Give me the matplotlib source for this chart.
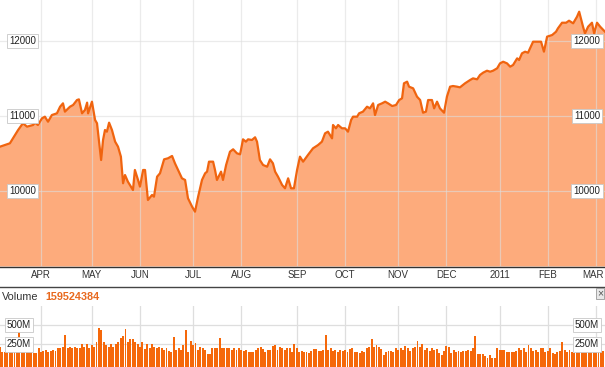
import matplotlib.pyplot as plt
from matplotlib.lines import Line2D
import matplotlib.transforms as mtransforms

plt.rcParams["font.family"] = ["Liberation Sans", "DejaVu Sans"]

# --- datos (x = sesion bursatil desde el inicio) ---
session = [0, 4.1, 6.2, 7.5, 9.5, 11.2, 13.7, 14.5, 15.7, 17.4, 18.6, 19.9, 21.5, 23.6,
           24.9, 26.1, 26.9, 29.0, 30.3, 31.9, 32.7, 34.0, 35.2, 36.1, 36.5, 38.1, 39.4,
           40.2, 41.9, 42.7, 43.5, 44.3, 45.2, 46.4, 47.7, 48.9, 50.1, 51.0, 51.8, 53.0,
           55.1, 55.9, 57.2, 58.0, 59.3, 60.1, 61.3, 63.0, 63.8, 65.1, 66.3, 68.0, 69.6,
           71.3, 72.5, 73.8, 75.4, 76.7, 77.9, 79.6, 80.8, 82.1, 83.7, 85.0, 85.8, 86.6,
           88.3, 89.1, 89.9, 91.6, 92.4, 93.7, 95.3, 96.6, 98.2, 99.5, 100.7, 101.9, 102.8,
           104.4, 105.7, 106.5, 107.7, 109.0, 110.7, 111.9, 113.1, 114.0, 115.2, 116.9,
           118.1, 119.4, 120.6, 121.8, 123.1, 124.3, 125.6, 127.6, 129.7, 131.8, 133.4,
           134.7, 135.9, 137.6, 138.0, 139.2, 140.1, 141.7, 143.0, 144.2, 145.5, 146.3,
           148.0, 148.8, 150.4, 152.1, 153.3, 154.6, 155.4, 156.7, 158.3, 159.6, 160.8,
           162.5, 164.1, 165.4, 166.6, 167.4, 168.7, 169.5, 171.2, 172.8, 174.1, 175.3,
           176.5, 177.4, 179.0, 179.9, 181.1, 182.3, 184.0, 185.2, 186.5, 187.7, 189.4,
           190.6, 192.7, 194.8, 196.0, 197.7, 198.9, 200.2, 201.8, 203.1, 204.3, 206.0,
           207.2, 208.5, 210.1, 211.4, 212.6, 214.3, 215.1, 216.3, 217.6, 218.8, 220.9,
           222.1, 224.2, 225.4, 226.7, 228.8, 230.4, 231.2, 232.9, 234.6, 235.8, 237.5,
           239.1, 240.0, 241.6, 242.4, 243.7, 245.3, 246.2, 247.4, 248.7, 250.7]
close = [10591, 10636, 10747, 10813, 10903, 10858, 10880, 10911, 10880, 10969, 10991,
         10924, 11013, 11036, 11124, 11169, 11058, 11124, 11147, 11213, 11222, 11036,
         11080, 11178, 11036, 11191, 10947, 10903, 10413, 10680, 10813, 10791, 10911,
         10813, 10658, 10591, 10458, 10103, 10213, 10124, 10013, 10280, 10147, 10058,
         10280, 10280, 9880, 9947, 9924, 10191, 10236, 10422, 10436, 10467, 10369, 10280,
         10169, 10147, 9903, 9791, 9724, 9924, 10147, 10236, 10258, 10391, 10391, 10280,
         10147, 10258, 10147, 10347, 10524, 10556, 10502, 10489, 10689, 10658, 10689,
         10680, 10716, 10658, 10413, 10347, 10324, 10422, 10369, 10258, 10191, 10080,
         10036, 10169, 10036, 10036, 10280, 10458, 10391, 10480, 10569, 10613, 10658,
         10769, 10791, 10702, 10880, 10836, 10880, 10836, 10836, 10791, 10947, 10991,
         10991, 11036, 11058, 11124, 11102, 11169, 11013, 11147, 11169, 11191, 11169,
         11133, 11147, 11213, 11236, 11436, 11458, 11391, 11369, 11258, 11213, 11044,
         11058, 11213, 11213, 11102, 11191, 11102, 11044, 11258, 11391, 11400, 11391,
         11382, 11436, 11480, 11502, 11489, 11547, 11578, 11604, 11591, 11604, 11636,
         11702, 11724, 11702, 11658, 11680, 11769, 11747, 11836, 11858, 11844, 11991,
         11991, 11991, 11858, 12058, 12080, 12124, 12169, 12244, 12244, 12271, 12236,
         12324, 12391, 12191, 12102, 12191, 12244, 12102, 12244, 12191, 12124]

# volumen diario en millones, una barra por sesion
volume = [219, 155, 155, 155, 163, 155, 155, 146, 410, 155, 163, 155, 155, 146, 133, 133,
          198, 155, 163, 176, 155, 163, 176, 163, 198, 206, 219, 370, 206, 219, 198, 219,
          198, 206, 250, 219, 250, 198, 241, 219, 284, 465, 435, 284, 241, 219, 250, 219,
          250, 284, 327, 362, 448, 284, 319, 319, 284, 250, 219, 276, 189, 250, 206,
          250, 219, 198, 219, 198, 176, 206, 163, 155, 340, 176, 198, 176, 241, 435, 155,
          293, 241, 263, 176, 219, 206, 176, 120, 120, 198, 206, 198, 327, 198, 206, 198,
          206, 176, 198, 176, 198, 176, 163, 176, 155, 146, 155, 176, 206, 219, 189, 155,
          176, 176, 232, 241, 176, 219, 206, 176, 206, 198, 155, 250, 198, 155,
          163, 155, 155, 133, 163, 189, 189, 163, 163, 176, 370, 176, 198, 163, 176, 155,
          176, 163, 176, 155, 189, 206, 155, 146, 133, 163, 146, 206, 219, 319, 219, 241,
          219, 189, 111, 155, 163, 163, 155, 198, 176, 198, 176, 232, 206, 163, 198, 219,
          293, 219, 250, 176, 206, 163, 206, 176, 189, 133, 111, 163, 232, 219,
          133, 176, 155, 163, 155, 163, 163, 176, 163, 198, 362, 120, 120, 120, 102, 77,
          111, 77, 68, 198, 176, 176, 176, 155, 155, 155, 155, 163, 198, 176, 198, 155,
          241, 198, 163, 176, 155, 206, 206, 155, 163, 198, 133, 120, 155, 163, 276, 176,
          155, 176, 155, 133, 155, 155, 155, 163, 155, 146, 155, 155, 155, 155, 155, 163]

month_pos = [17, 38, 58, 80, 100, 123, 143, 165, 185, 207, 227, 247]
month_labels = ["APR", "MAY", "JUN", "JUL", "AUG", "SEP", "OCT", "NOV", "DEC",
                "2011", "FEB", "MAR"]
price_ticks = [10000, 11000, 12000]
vol_ticks = [250, 500]
vol_tick_labels = ["250M", "500M"]
last_volume = "159524384"

W, H = 605, 367
XMAX = 250.7
LINEA = "#f0640f"
RELLENO = "#fdab7c"
BARRA = "#f5680a"
REJILLA = "#dedede"
TEXTO = "#333333"
caja = dict(boxstyle="square,pad=0.25", fc="white", ec="#c8c8c8", lw=0.6)

fig = plt.figure(figsize=(W / 100, H / 100), dpi=100)
fig.patch.set_facecolor("white")

# --- panel de precio ---
ax = fig.add_axes([0, 1 - 266.5 / H, 1, 266.5 / H])
ymin, ymax = 8993, 12547
ax.set_xlim(0, XMAX)
ax.set_ylim(ymin, ymax)
ax.fill_between(session, close, ymin, color=RELLENO, lw=0, zorder=1)
for v in price_ticks:
    ax.axhline(v, color=REJILLA, lw=0.9, alpha=0.6, zorder=2)
for p in month_pos:
    ax.axvline(p, color=REJILLA, lw=0.9, alpha=0.6, zorder=2)
ax.plot(session, close, color=LINEA, lw=1.6, solid_joinstyle="round", zorder=3)

for s in ["top", "left", "right"]:
    ax.spines[s].set_visible(False)
ax.spines["bottom"].set_color("#333333")
ax.spines["bottom"].set_linewidth(1.0)
ax.set_yticks([])
ax.set_xticks([])

# etiquetas de mes (la ultima se ajusta al borde derecho)
transx = mtransforms.blended_transform_factory(ax.transData, ax.transAxes)
for p, lab in zip(month_pos, month_labels):
    if lab == month_labels[-1]:
        ax.text(XMAX - 0.4, -0.012, lab, transform=transx, ha="right", va="top",
                fontsize=7, color=TEXTO, clip_on=False)
    else:
        ax.text(p, -0.012, lab, transform=transx, ha="center", va="top",
                fontsize=7, color=TEXTO, clip_on=False)

trans = mtransforms.blended_transform_factory(ax.transAxes, ax.transData)
for v in price_ticks:
    for xf in (22.5 / W, 587 / W):
        ax.text(xf, v, str(v), transform=trans, ha="center", va="center",
                fontsize=7, color="#222222", bbox=caja, zorder=5)

# --- cabecera del volumen ---
fig.add_artist(Line2D([0, 1], [1 - 286.5 / H] * 2, color="#444444", lw=1.0))
fig.text(2 / W, 1 - 297.5 / H, "Volume", fontsize=7.8, color=TEXTO, va="center")
fig.text(45 / W, 1 - 297.5 / H, last_volume, fontsize=7.8, color="#e8691e",
         fontweight="bold", va="center")
fig.text(600 / W, 1 - 293.5 / H, "×", fontsize=7.5, color="#555555", ha="center",
         va="center", bbox=dict(boxstyle="square,pad=0.05", fc="#e8e8e8", ec="#999999",
                                lw=0.6))

# --- panel de volumen ---
axv = fig.add_axes([0, 0, 1, 61 / H])
vmin, vmax = -44, 746
axv.set_xlim(0, XMAX)
axv.set_ylim(vmin, vmax)
for v in vol_ticks:
    axv.axhline(v, color=REJILLA, lw=0.9, zorder=0)
for p in month_pos:
    axv.axvline(p, color=REJILLA, lw=0.9, zorder=0)
axv.bar(range(len(volume)), [v - vmin for v in volume], bottom=vmin, width=0.8,
        color=BARRA, lw=0, zorder=2)
for s in axv.spines.values():
    s.set_visible(False)
axv.set_xticks([])
axv.set_yticks([])
transv = mtransforms.blended_transform_factory(axv.transAxes, axv.transData)
for v, lab in zip(vol_ticks, vol_tick_labels):
    for xf in (19 / W, 587 / W):
        axv.text(xf, v, lab, transform=transv, ha="center", va="center",
                 fontsize=7, color="#222222", bbox=caja, zorder=5)

fig.savefig("out.png", dpi=100)
